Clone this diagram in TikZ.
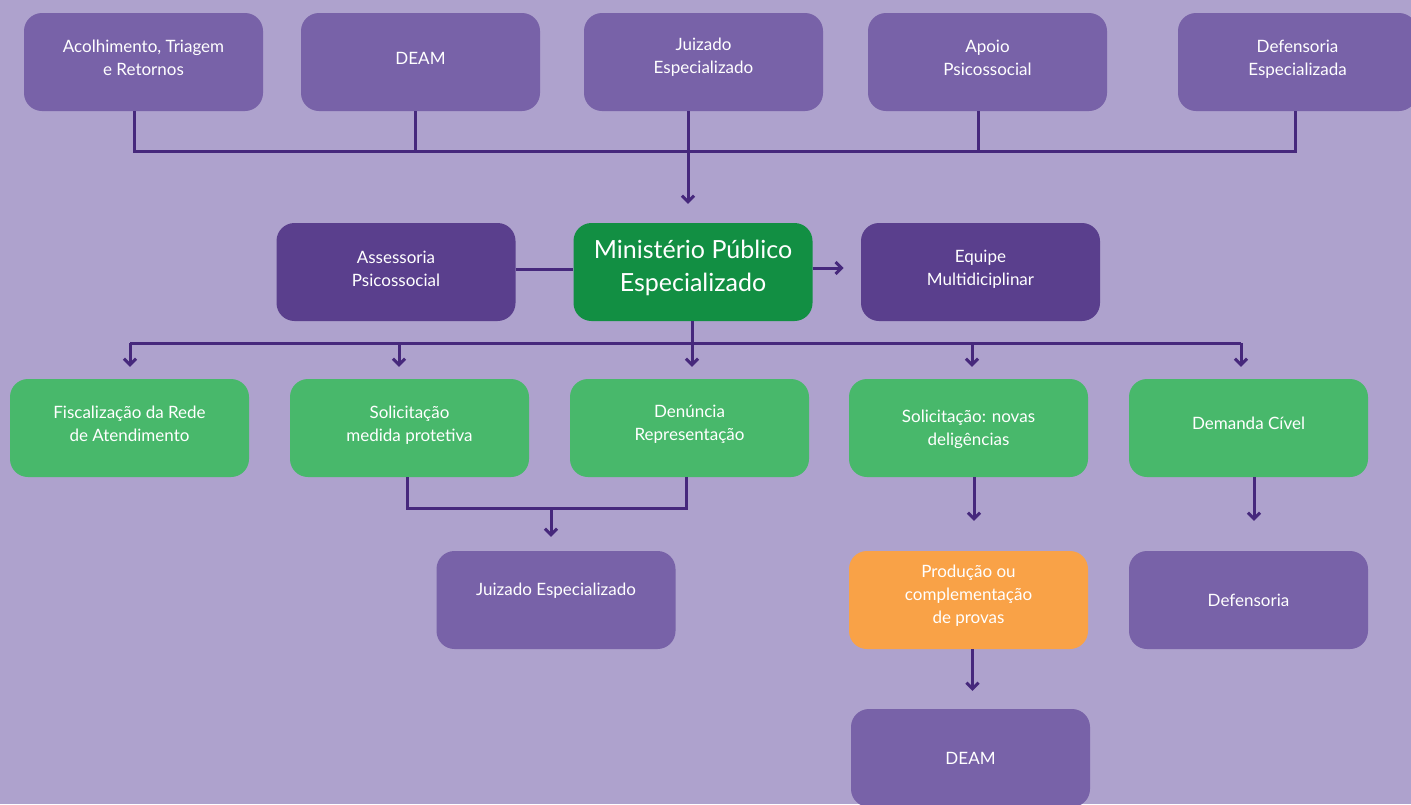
\documentclass[tikz,border=0pt]{standalone}
\usepackage{fontspec}
\setmainfont{Lato}
\usetikzlibrary{arrows.meta}
\definecolor{bg}{HTML}{AEA2CD}
\definecolor{boxp}{HTML}{7862A8}
\definecolor{darkp}{HTML}{5A3F8D}
\definecolor{mpgreen}{HTML}{128F43}
\definecolor{lgreen}{HTML}{48B86B}
\definecolor{orangeb}{HTML}{F9A247}
\definecolor{ln}{HTML}{46287C}
\begin{document}
\begin{tikzpicture}[x=1pt,y=-1pt,
  box/.style={rounded corners=18pt, minimum width=239pt, minimum height=98pt, inner sep=0pt},
  txt/.style={text=white, align=center, font=\fontsize{17}{23}\selectfont},
  bigtxt/.style={text=white, align=center, font=\fontsize{25}{33}\selectfont},
  conn/.style={draw=ln, line width=3pt},
  arr/.style={conn, -{Straight Barb[length=6pt,width=12pt]}}]
\useasboundingbox (0,0) rectangle (1411,804);
\fill[bg] (0,0) rectangle (1411,804);

% top row
\node[box, fill=boxp, label={[txt,yshift=4pt]center:Acolhimento, Triagem\\e Retornos}] (b1) at (143.5,62) {};
\node[box, fill=boxp, label={[txt,yshift=4pt]center:DEAM}] (b2) at (420.5,62) {};
\node[box, fill=boxp, label={[txt,yshift=5pt]center:Juizado\\Especializado}] (b3) at (703.5,62) {};
\node[box, fill=boxp, label={[txt,yshift=4pt]center:Apoio\\Psicossocial}] (b4) at (987.5,62) {};
\node[box, fill=boxp, label={[txt,yshift=3pt]center:Defensoria\\Especializada}] (b5) at (1297.5,62) {};

\coordinate (t1) at (134,151);
\coordinate (t3) at (688,151);
\coordinate (t5) at (1295,151);
\draw[conn] ([xshift=-9.5pt]b1.south) -- (t1) -- (t5) -- ([xshift=-2.5pt]b5.south);
\draw[conn] ([xshift=-5.5pt]b2.south) -- ++(0,40);
\draw[conn] ([xshift=-15.5pt]b3.south) -- (t3);
\draw[conn] ([xshift=-9.5pt]b4.south) -- ++(0,40);

% middle row
\node[box, fill=darkp, label={[txt,yshift=3pt]center:Assessoria\\Psicossocial}] (as) at (396,272) {};
\node[box, fill=mpgreen, label={[bigtxt,yshift=4pt]center:Ministério Público\\Especializado}] (mp) at (693,272) {};
\node[box, fill=darkp, label={[txt,yshift=3pt]center:Equipe\\Multidiciplinar}] (eq) at (980.5,272) {};

\draw[arr] (t3) -- ([yshift=19pt]mp.north -| t3);
\draw[conn] ([yshift=3pt]as.east) -- ([yshift=3pt]mp.west);
\draw[arr] ([yshift=4pt]mp.east) -- ++(31,0);

% green row
\node[box, fill=lgreen, label={[txt,yshift=4pt]center:Fiscalização da Rede\\de Atendimento}] (g1) at (129.5,428) {};
\node[box, fill=lgreen, label={[txt,yshift=3pt]center:Solicitação\\medida protetiva}] (g2) at (409.5,428) {};
\node[box, fill=lgreen, label={[txt,yshift=3.5pt]center:Denúncia\\Representação}] (g3) at (689.5,428) {};
\node[box, fill=lgreen, label={[txt,yshift=-1pt]center:Solicitação: novas\\deligências}] (g4) at (968.5,428) {};
\node[box, fill=lgreen, label={[txt,yshift=5pt]center:Demanda Cível}] (g5) at (1248.5,428) {};

\coordinate (m0) at (692,343);
\coordinate (m1) at (130,343);
\coordinate (m2) at (399,343);
\coordinate (m4) at (972,343);
\coordinate (m5) at (1241,343);
\draw[conn] (mp.south -| m0) -- (m0);
\draw[conn] (m1) -- (m5);
\foreach \c/\g in {m1/g1, m2/g2, m0/g3, m4/g4, m5/g5}
  \draw[arr] (\c) -- ([yshift=12pt]\g.north -| \c);

% lower rows
\node[box, fill=boxp, label={[txt,yshift=9pt]center:Juizado Especializado}] (jz) at (556,600) {};
\node[box, fill=orangeb, label={[txt,yshift=4pt]center:Produção ou\\complementação\\de provas}] (pr) at (968.5,600) {};
\node[box, fill=boxp, label={[txt,yshift=0pt]center:Defensoria}] (df) at (1248.5,600) {};
\node[box, fill=boxp, label={[txt,yshift=0pt]center:DEAM}] (dm) at (970.5,758) {};

\coordinate (j2) at (407,508);
\coordinate (j3) at (686,508);
\coordinate (jm) at (551,508);
\draw[conn] (g2.south -| j2) -- (j2) -- (j3) -- (g3.south -| j3);
\draw[arr] (jm) -- ([yshift=14pt]jz.north -| jm);

\draw[arr] ([xshift=5.5pt]g4.south) -- ([xshift=5.5pt,yshift=30pt]pr.north);
\draw[arr] ([xshift=5.5pt]g5.south) -- ([xshift=5.5pt,yshift=30pt]df.north);
\draw[arr] ([xshift=4pt]pr.south) -- ([xshift=2pt,yshift=18pt]dm.north);
\end{tikzpicture}
\end{document}
